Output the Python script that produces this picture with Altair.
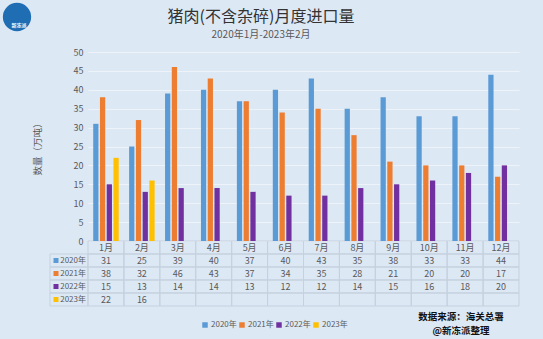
import altair as alt
import pandas as pd

months = ["1月", "2月", "3月", "4月", "5月", "6月", "7月", "8月", "9月", "10月", "11月", "12月"]
years = ["2020年", "2021年", "2022年", "2023年"]
v2020 = [31, 25, 39, 40, 37, 40, 43, 35, 38, 33, 33, 44]
v2021 = [38, 32, 46, 43, 37, 34, 35, 28, 21, 20, 20, 17]
v2022 = [15, 13, 14, 14, 13, 12, 12, 14, 15, 16, 18, 20]
v2023 = [22, 16]
colors = ["#5B9BD5", "#ED7D31", "#7030A0", "#FFC000"]
header = "月份"
rows = [header] + years
title_text = "猪肉(不含杂碎)月度进口量"
subtitle_text = "2020年1月-2023年2月"
source_lines = ["数据来源：海关总署", "@新冻派整理"]

FONT = "Noto Sans CJK SC"
GRAY = "#595959"
LINE = "#c5d1de"

recs = []
for yr, vals in zip(years, [v2020, v2021, v2022, v2023]):
    for m, v in zip(months, vals):
        recs.append({"month": m, "year": yr, "value": v})
df = pd.DataFrame(recs)

cells = pd.DataFrame([{"month": m, "row": r} for r in rows for m in months])
head = pd.DataFrame({"month": months, "row": [header] * len(months)})
yrs = pd.DataFrame({"row": years, "year": years})

W, H = 431, 189
xb = alt.Scale(domain=months, paddingInner=0, paddingOuter=0)
yt = alt.Scale(domain=rows, range=[189, 254], paddingInner=0, paddingOuter=0)
cscale = alt.Scale(domain=years, range=colors)

bars = alt.Chart(df).mark_bar().encode(
    x=alt.X("month:N", sort=months,
            scale=alt.Scale(domain=months, paddingInner=0.29, paddingOuter=0.145), axis=None),
    xOffset=alt.XOffset("year:N", scale=alt.Scale(domain=years, paddingInner=0.22)),
    y=alt.Y("value:Q", scale=alt.Scale(domain=[0, 50]),
            axis=alt.Axis(values=list(range(0, 51, 5)), title="数量（万吨）",
                          grid=True, gridColor="#eef3f9", ticks=False, domain=False,
                          labelFontSize=9, labelColor=GRAY, labelFont=FONT, labelPadding=5,
                          titleFont=FONT, titleFontSize=9.5, titleFontWeight="normal",
                          titleColor=GRAY, titlePadding=31)),
    color=alt.Color("year:N", scale=cscale,
                    legend=alt.Legend(orient="none", legendX=113, legendY=269, direction="horizontal",
                                      title=None, symbolType="square", symbolSize=30,
                                      symbolStrokeWidth=0, labelFontSize=8, labelColor=GRAY,
                                      labelFont=FONT, columnPadding=1, labelOffset=2,
                                      padding=0)),
)

grid = alt.Chart(cells).mark_rect(fill="transparent", stroke=LINE, strokeWidth=1).encode(
    x=alt.X("month:N", scale=xb, axis=None),
    y=alt.Y("row:N", scale=yt, axis=None),
)

rowhead = alt.Chart(yrs).mark_rect(fill="transparent", stroke=LINE, strokeWidth=1).encode(
    x=alt.value(-38), x2=alt.value(0),
    y=alt.Y("row:N", scale=yt, axis=None),
)

headtext = alt.Chart(head).mark_text(font=FONT, fontSize=9, color=GRAY, baseline="middle").encode(
    x=alt.X("month:N", scale=xb, axis=None),
    y=alt.Y("row:N", scale=yt, axis=None),
    text="month:N",
)

valtext = alt.Chart(df).mark_text(font=FONT, fontSize=9, color=GRAY, baseline="middle").encode(
    x=alt.X("month:N", scale=xb, axis=None),
    y=alt.Y("year:N", scale=yt, axis=None),
    text="value:Q",
)

rowtext = alt.Chart(yrs).mark_text(font=FONT, fontSize=8, color=GRAY, baseline="middle",
                                   align="right").encode(
    x=alt.value(-2),
    y=alt.Y("row:N", scale=yt, axis=None),
    text="row:N",
)

rowsq = alt.Chart(yrs).mark_square(size=25, opacity=1).encode(
    x=alt.value(-32),
    y=alt.Y("row:N", scale=yt, axis=None),
    color=alt.Color("year:N", scale=cscale, legend=None),
)

src = alt.Chart(pd.DataFrame({"t": source_lines, "i": [0, 1]})).mark_text(
    font=FONT, fontSize=9.5, fontWeight="bold", color="#111111", baseline="middle"
).encode(
    x=alt.value(373),
    y=alt.Y("i:Q", scale=alt.Scale(domain=[0, 1], range=[265, 279]), axis=None),
    text="t:N",
)

titles = alt.Chart(pd.DataFrame({"t": [title_text, subtitle_text], "s": [16, 10],
                                 "c": ["#333333", GRAY], "i": [0, 1]})).mark_text(
    font=FONT, baseline="middle"
).encode(
    x=alt.value(173),
    y=alt.Y("i:Q", scale=alt.Scale(domain=[0, 1], range=[-35, -17]), axis=None),
    text="t:N",
    size=alt.Size("s:Q", scale=None, legend=None),
    color=alt.Color("c:N", scale=None, legend=None),
)

logo = alt.Chart(pd.DataFrame({"t": ["新冻派"]})).mark_circle(size=800, color="#1f6db3", opacity=1).encode(
    x=alt.value(-71), y=alt.value(-35)
)
logotext = alt.Chart(pd.DataFrame({"t": ["新冻派"]})).mark_text(
    font=FONT, fontSize=5, color="white", fontWeight="bold"
).encode(x=alt.value(-69), y=alt.value(-27), text="t:N")

chart = alt.layer(
    grid, rowhead, bars, headtext, valtext, rowtext, rowsq, src, titles, logo, logotext
).resolve_scale(x="independent", y="independent", size="independent").properties(
    width=W, height=H,
    autosize=alt.AutoSizeParams(type="none"),
    padding={"left": 88, "top": 52, "right": 24, "bottom": 98},
    background="#dde8f5",
).configure_view(stroke=None)

chart.save("out.html", embed_options={"renderer": "svg", "actions": False})
